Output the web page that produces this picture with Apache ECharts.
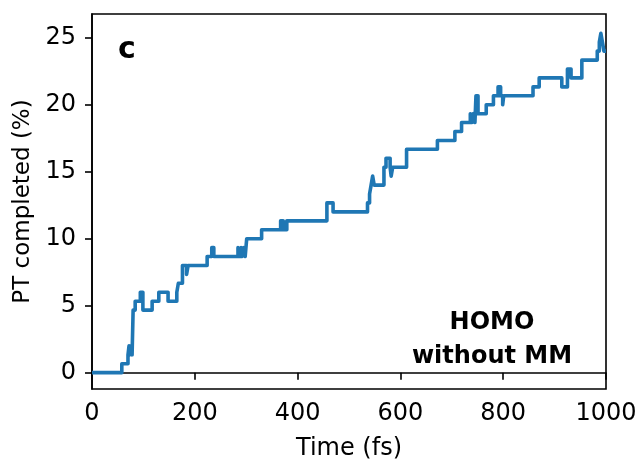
<!DOCTYPE html>
<html>
<head>
<meta charset="utf-8">
<script src="https://cdn.jsdelivr.net/npm/echarts@6/dist/echarts.min.js"></script>
<style>
html,body{margin:0;padding:0;background:#fff;}
#chart{width:640px;height:459px;}
</style>
</head>
<body>
<div id="chart"></div>
<script>
// Change points of the step curve: time (fs) and PT completed (%)
var times = [0, 58, 70, 72, 74, 76, 78, 80, 84, 94, 99, 117, 130, 148, 165, 168, 176, 184, 187,
  224, 233, 237, 284, 286, 290, 292, 295, 298, 301, 330, 367, 372, 379, 457, 469,
  536, 540, 543, 546, 549, 568, 572, 580, 582, 585, 612, 672, 706, 719, 736, 739, 742, 745,
  747, 751, 767, 781, 790, 795, 799, 801, 858, 870, 914, 925, 932, 953, 983, 987, 990, 993, 996, 1000];
var values = [0, 0.67, 1.33, 2.0, 1.33, 2.0, 1.33, 4.67, 5.33, 6.0, 4.67, 5.33, 6.0, 5.33, 6.0, 6.67, 8.0, 7.33, 8.0,
  8.67, 9.33, 8.67, 9.33, 8.67, 9.33, 8.67, 9.33, 8.67, 10.0, 10.67, 11.33, 10.67, 11.33, 12.67, 12.0,
  12.67, 13.33, 14.0, 14.67, 14.0, 15.33, 16.0, 15.33, 14.67, 15.33, 16.67, 17.33, 18.0, 18.67, 19.33, 18.67, 19.33, 18.67,
  20.67, 19.33, 20.0, 20.67, 21.33, 20.67, 20.0, 20.67, 21.33, 22.0, 21.33, 22.67, 22.0, 23.33, 24.0, 24.67, 25.33, 24.67, 24.0, 24.0];
var xTicks = [0, 200, 400, 600, 800, 1000];
var yTicks = [0, 5, 10, 15, 20, 25];
var panelLabel = 'c';
var noteLines = ['HOMO', 'without MM'];

var data = times.map(function (t, i) { return [t, values[i]]; });
var FONT = 'DejaVu Sans';
var chart = echarts.init(document.getElementById('chart'), null, {renderer: 'canvas'});
chart.setOption({
  animation: false,
  backgroundColor: '#ffffff',
  grid: {left: 92, right: 34, top: 14, bottom: 70, containLabel: false, outerBoundsMode: 'none',
    show: true, borderColor: '#000', borderWidth: 1.6, backgroundColor: 'transparent'},
  xAxis: {
    type: 'value', min: 0, max: 1000, interval: 200,
    name: 'Time (fs)', nameLocation: 'middle', nameGap: 48,
    nameTextStyle: {fontFamily: FONT, fontSize: 24, color: '#000'},
    axisLine: {show: true, lineStyle: {color: '#000', width: 1.6}},
    axisTick: {show: true, inside: false, length: 7, lineStyle: {color: '#000', width: 1.6}, customValues: xTicks},
    axisLabel: {fontFamily: FONT, fontSize: 24, color: '#000', margin: 13, customValues: xTicks,
      formatter: function (v) { return String(v); }},
    splitLine: {show: false}
  },
  yAxis: {
    type: 'value', min: -1.22, max: 26.77,
    name: 'PT completed (%)', nameLocation: 'middle', nameGap: 55, nameRotate: 90,
    nameTextStyle: {fontFamily: FONT, fontSize: 23, color: '#000'},
    axisLine: {show: true, lineStyle: {color: '#000', width: 1.6}},
    axisTick: {show: true, inside: false, length: 7, lineStyle: {color: '#000', width: 1.6}, customValues: yTicks},
    axisLabel: {fontFamily: FONT, fontSize: 24, color: '#000', margin: 16, customValues: yTicks,
      formatter: function (v) { return String(v); }},
    splitLine: {show: false}
  },
  series: [{
    type: 'line', step: 'end', data: data, showSymbol: false, symbol: 'none',
    lineStyle: {color: '#1f77b4', width: 3.6, cap: 'butt', join: 'round'},
    silent: true, clip: true
  }],
  graphic: [
    {type: 'text', x: 127, y: 50, style: {text: panelLabel, font: 'bold 30px "DejaVu Sans"', fill: '#000', textAlign: 'center', textVerticalAlign: 'middle'}},
    {type: 'text', x: 492, y: 323, style: {text: noteLines[0], font: 'bold 24px "DejaVu Sans"', fill: '#000', textAlign: 'center', textVerticalAlign: 'middle'}},
    {type: 'text', x: 492, y: 357, style: {text: noteLines[1], font: 'bold 24px "DejaVu Sans"', fill: '#000', textAlign: 'center', textVerticalAlign: 'middle'}}
  ]
});
</script>
</body>
</html>
